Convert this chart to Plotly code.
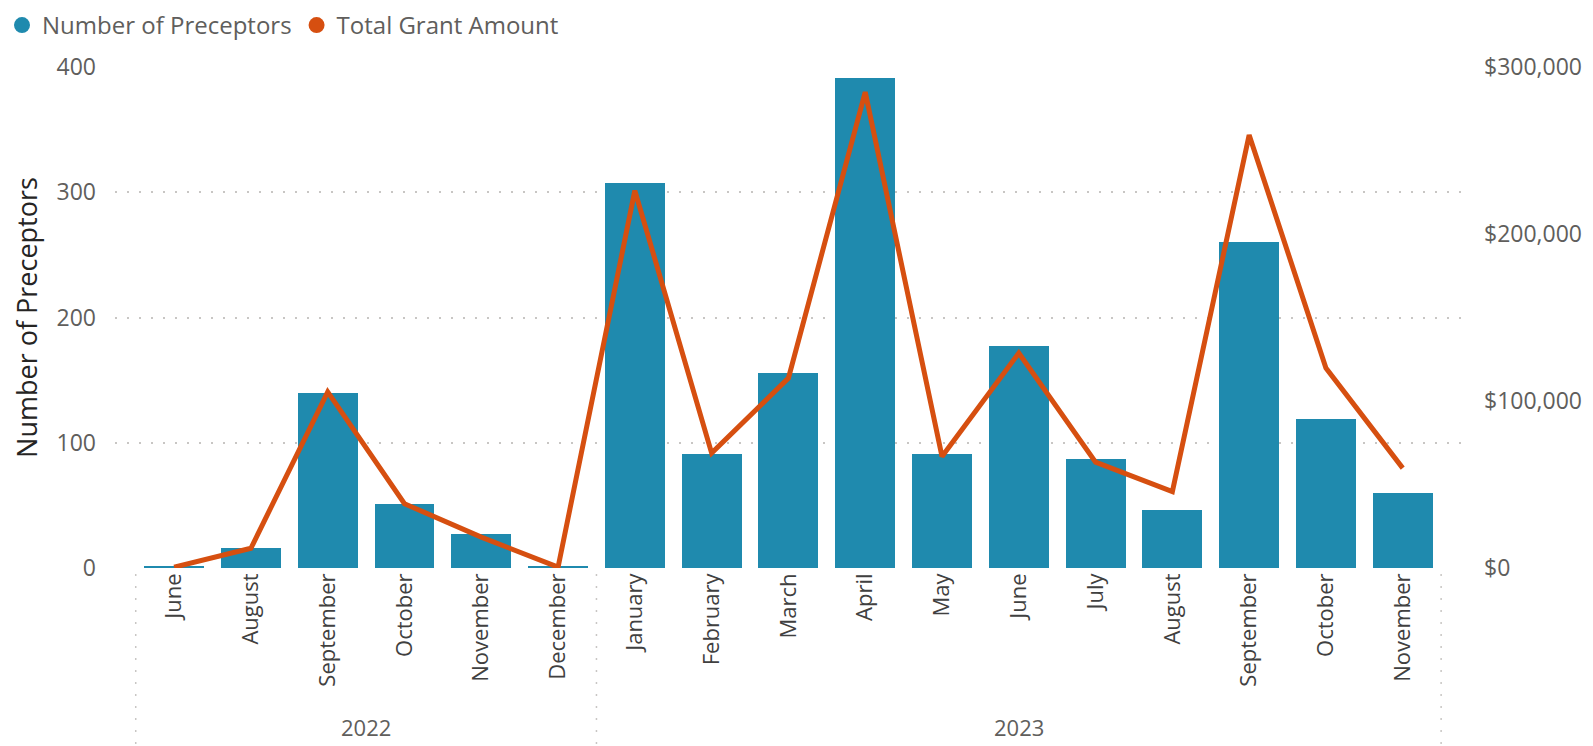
import plotly.graph_objects as go

# ---- data ----
years = ["2022"] * 6 + ["2023"] * 11
months = ["June", "August", "September", "October", "November", "December",
          "January", "February", "March", "April", "May", "June", "July",
          "August", "September", "October", "November"]
preceptors = [2, 16, 140, 51, 27, 2,
              307, 91, 156, 391, 91, 177, 87, 46, 260, 119, 60]
grant_amount = [500, 11800, 105500, 38500, 18500, 500,
                226000, 68800, 113700, 285000, 66800, 128700, 63400,
                45800, 259300, 119700, 59800]
left_ticks = [0, 100, 200, 300, 400]
right_ticks = [0, 100000, 200000, 300000]

BAR = "#1F8AAE"
LINE = "#D64F10"
GRID = "#C8C6C4"
FONT = "Open Sans"

x = list(range(len(months)))

# page body has an 8px margin, so the figure is drawn at (8, 8)
W, H = 1585, 738
ML, MR, MT, MB = 107, 125, 59, 178
plot_h = H - MT - MB
plot_w = W - ML - MR

fig = go.Figure()
fig.add_trace(go.Bar(x=x, y=preceptors, name="Number of Preceptors",
                     marker=dict(color=BAR, line=dict(width=0)), width=0.78,
                     showlegend=False))
fig.add_trace(go.Scatter(x=x, y=grant_amount, name="Total Grant Amount",
                         mode="lines", line=dict(color=LINE, width=5),
                         yaxis="y2", showlegend=False))
# legend entries (circle symbols)
fig.add_trace(go.Scatter(x=[None], y=[None], mode="markers", name="Number of Preceptors",
                         marker=dict(color=BAR, size=20, symbol="circle")))
fig.add_trace(go.Scatter(x=[None], y=[None], mode="markers", name="Total Grant Amount",
                         marker=dict(color=LINE, size=20, symbol="circle")))

# year group labels and separators
groups = []
for i, yv in enumerate(years):
    if not groups or groups[-1][0] != yv:
        groups.append([yv, i, i])
    else:
        groups[-1][2] = i
below = -(MB) / plot_h
for yv, a, b in groups:
    fig.add_annotation(x=(a + b) / 2, y=0, xref="x", yref="paper", text=yv,
                       showarrow=False, yshift=-159, yanchor="middle",
                       font=dict(family=FONT, size=22, color="#605E5C"))
bounds = [groups[0][1] - 0.5] + [g[2] + 0.5 for g in groups]
for bx in bounds:
    fig.add_shape(type="line", xref="x", yref="paper", x0=bx, x1=bx,
                  y0=-6 / plot_h, y1=below,
                  line=dict(color=GRID, width=1.5, dash="2px,10px"))

fig.update_layout(
    width=W, height=H,
    margin=dict(l=ML, r=MR, t=MT, b=MB, autoexpand=False),
    paper_bgcolor="white", plot_bgcolor="white",
    font=dict(family=FONT, size=22, color="#605E5C"),
    bargap=0,
    legend=dict(orientation="h", x=-(ML + 6) / plot_w, y=1 + (MT + 5) / plot_h,
                xanchor="left", yanchor="top",
                font=dict(family=FONT, size=24, color="#605E5C"),
                itemsizing="trace", bgcolor="rgba(0,0,0,0)",
                borderwidth=0),
    xaxis=dict(tickmode="array", tickvals=x, ticktext=months, tickangle=-90,
               range=[-0.77, 16.85], showgrid=False, zeroline=False,
               showline=False, ticks="",
               tickfont=dict(family=FONT, size=22, color="#404040")),
    yaxis=dict(range=[0, 400], tickvals=left_ticks, showgrid=True,
               gridcolor=GRID, gridwidth=1.5, griddash="2px,10px",
               zeroline=False, showline=False, ticks="",
               ticklabelstandoff=18,
               tickfont=dict(family=FONT, size=23, color="#605E5C"),
               title=dict(text="Number of Preceptors", standoff=12,
                          font=dict(family=FONT, size=27, color="#252423"))),
    yaxis2=dict(range=[0, 300000], tickvals=right_ticks, tickformat="$,.0f",
                overlaying="y", side="right", showgrid=False, zeroline=False,
                showline=False, ticks="", ticklabelstandoff=15,
                tickfont=dict(family=FONT, size=23, color="#605E5C")),
)

fig.write_html("out.html")
